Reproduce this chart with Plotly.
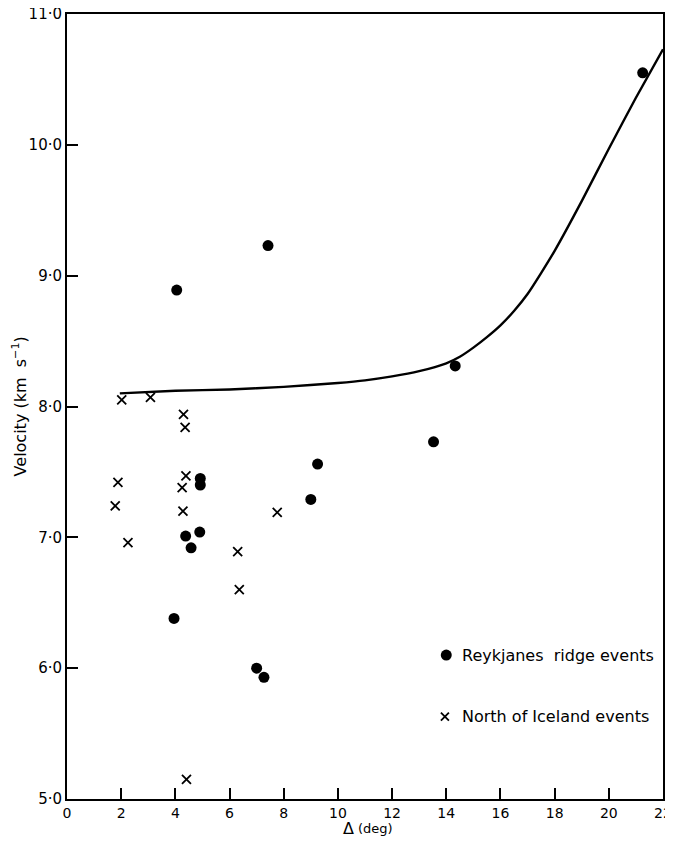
import plotly.graph_objects as go

# Reykjanes ridge events (dots)
reyk_x = [21.25, 7.42, 4.05, 14.33, 13.53, 9.25, 9.0, 4.92, 4.92, 4.90, 4.38, 4.58, 3.95, 7.0, 7.27]
reyk_y = [10.55, 9.23, 8.89, 8.31, 7.73, 7.56, 7.29, 7.45, 7.40, 7.04, 7.01, 6.92, 6.38, 6.00, 5.93]

# North of Iceland events (crosses)
nice_x = [2.02, 3.08, 4.30, 4.36, 1.88, 4.39, 4.25, 1.78, 4.28, 7.76, 2.25, 6.30, 6.36, 4.41]
nice_y = [8.05, 8.07, 7.94, 7.84, 7.42, 7.47, 7.38, 7.24, 7.20, 7.19, 6.96, 6.89, 6.60, 5.15]

# Model velocity curve
curve_x = [1.95, 4, 6, 8, 10, 11, 12, 13, 14, 14.5, 15, 15.5, 16, 16.5, 17, 17.5, 18, 19, 20, 21, 22]
curve_y = [8.10, 8.12, 8.13, 8.15, 8.18, 8.20, 8.23, 8.27, 8.33, 8.38, 8.45, 8.53, 8.62, 8.73, 8.86, 9.02, 9.19, 9.57, 9.97, 10.36, 10.73]

x_ticks = [0, 2, 4, 6, 8, 10, 12, 14, 16, 18, 20, 22]
y_ticks = [5, 6, 7, 8, 9, 10, 11]
y_ticklabels = ["5·0", "6·0", "7·0", "8·0", "9·0", "10·0", "11·0"]

legend_labels = ["Reykjanes  ridge events", "North of Iceland events"]

FONT = "DejaVu Sans"
TXT = dict(family=FONT, color="black")

fig = go.Figure()
fig.add_trace(go.Scatter(x=curve_x, y=curve_y, mode="lines",
                         line=dict(color="black", width=2.4, shape="spline", smoothing=0.5),
                         showlegend=False, hoverinfo="skip"))
fig.add_trace(go.Scatter(x=reyk_x, y=reyk_y, mode="markers",
                         marker=dict(symbol="circle", size=11, color="black"),
                         showlegend=False, cliponaxis=False))
fig.add_trace(go.Scatter(x=nice_x, y=nice_y, mode="markers",
                         marker=dict(symbol="x-thin", size=9, color="black",
                                     line=dict(color="black", width=1.8)),
                         showlegend=False, cliponaxis=False))

# legend drawn inside the plot
fig.add_trace(go.Scatter(x=[14.0], y=[6.10], mode="markers",
                         marker=dict(symbol="circle", size=11, color="black"),
                         showlegend=False))
fig.add_trace(go.Scatter(x=[13.95], y=[5.63], mode="markers",
                         marker=dict(symbol="x-thin", size=8, color="black",
                                     line=dict(color="black", width=1.8)),
                         showlegend=False))
fig.add_annotation(x=14.5, y=6.10, text=legend_labels[0], showarrow=False,
                   xanchor="left", yanchor="middle", font=dict(size=16, **TXT))
fig.add_annotation(x=14.5, y=5.63, text=legend_labels[1], showarrow=False,
                   xanchor="left", yanchor="middle", font=dict(size=16, **TXT))

# axis titles
fig.add_annotation(xref="paper", yref="paper", x=-0.079, y=0.5,
                   text="Velocity (km  s<sup>−1</sup>)", textangle=-90, showarrow=False,
                   xanchor="center", yanchor="middle", font=dict(size=16, **TXT))
fig.add_annotation(xref="paper", yref="paper", x=0.485, y=-0.0375,
                   text="Δ", showarrow=False, xanchor="right", yanchor="middle",
                   font=dict(size=16, **TXT))
fig.add_annotation(xref="paper", yref="paper", x=0.485, y=-0.0375,
                   text="(deg)", showarrow=False, xanchor="left", yanchor="middle",
                   font=dict(size=13, **TXT))

fig.update_xaxes(range=[0, 22], tickvals=x_ticks, ticktext=[str(v) for v in x_ticks],
                 ticks="inside", ticklen=11, tickwidth=1.5, tickcolor="black",
                 showline=True, linecolor="black", linewidth=2, mirror=True,
                 showgrid=False, zeroline=False, automargin=False,
                 ticklabeloverflow="allow",
                 tickfont=dict(size=14, **TXT))
fig.update_yaxes(range=[5, 11], tickvals=y_ticks, ticktext=y_ticklabels,
                 ticks="inside", ticklen=11, tickwidth=1.5, tickcolor="black",
                 showline=True, linecolor="black", linewidth=2, mirror=True,
                 showgrid=False, zeroline=False, automargin=False,
                 ticklabeloverflow="allow",
                 tickfont=dict(size=15, **TXT))

fig.update_layout(width=657, height=831, plot_bgcolor="white", paper_bgcolor="white",
                  margin=dict(l=59, r=2, t=6, b=40), showlegend=False)

fig.write_html("out.html")
